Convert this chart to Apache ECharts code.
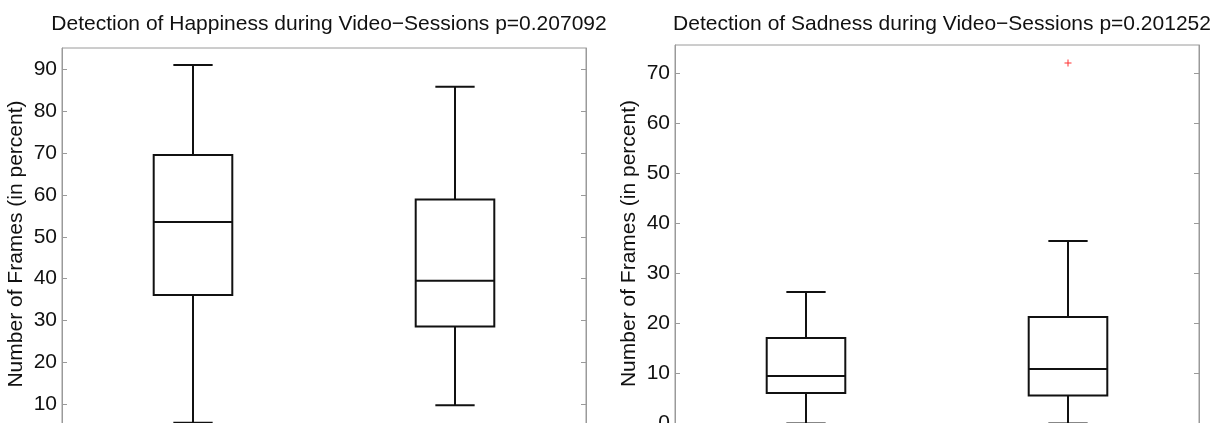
<!DOCTYPE html>
<html>
<head>
<meta charset="utf-8">
<script src="https://cdn.jsdelivr.net/npm/echarts@6/dist/echarts.min.js"></script>
<style>
  html, body { margin: 0; padding: 0; width: 1217px; height: 423px; overflow: hidden; background: #fff; }
  #chart { width: 1217px; height: 470px; }
</style>
</head>
<body>
<div id="chart"></div>
<script>
// Group positions on the x axis
const groups = [1, 2];

// Five-number summaries per group: [lower whisker, Q1, median, Q3, upper whisker]
const happinessBoxes = [
  [5.6, 36.1, 53.5, 69.5, 91.0],
  [9.8, 28.6, 39.5, 58.9, 85.8]
];
const sadnessBoxes = [
  [0.0, 6.1, 9.5, 17.1, 26.3],
  [0.0, 5.6, 10.9, 21.3, 36.5]
];
// Outliers as [group, value]
const happinessOutliers = [];
const sadnessOutliers = [[2, 72.1]];

// Tick labels
const happinessTicks = [10, 20, 30, 40, 50, 60, 70, 80, 90];
const sadnessTicks = [0, 10, 20, 30, 40, 50, 60, 70];

const titles = [
  'Detection of Happiness during Video\u2212Sessions p=0.207092',
  'Detection of Sadness during Video\u2212Sessions p=0.201252'
];
const yName = 'Number of Frames (in percent)';

const FONT = '"Liberation Sans", Arial, Helvetica, sans-serif';
const FRAME = '#9a9a9a';

function boxRows(boxes) {
  return boxes.map((b, i) => [groups[i]].concat(b));
}

// Draws a box with median, whiskers and half-width caps
function renderBox(params, api) {
  const x = api.value(0);
  const pLo = api.coord([x, api.value(1)]);
  const pQ1 = api.coord([x, api.value(2)]);
  const pMed = api.coord([x, api.value(3)]);
  const pQ3 = api.coord([x, api.value(4)]);
  const pHi = api.coord([x, api.value(5)]);
  const boxW = api.size([0.3, 0])[0];
  const capW = boxW / 2;
  const cx = pLo[0];
  const st = { stroke: '#111', lineWidth: 2, fill: null };
  const line = (x1, y1, x2, y2) => ({ type: 'line', shape: { x1, y1, x2, y2 }, style: st });
  return {
    type: 'group',
    children: [
      { type: 'rect', shape: { x: cx - boxW / 2, y: pQ3[1], width: boxW, height: pQ1[1] - pQ3[1] }, style: st },
      line(cx - boxW / 2, pMed[1], cx + boxW / 2, pMed[1]),
      line(cx, pQ3[1], cx, pHi[1]),
      line(cx, pQ1[1], cx, pLo[1]),
      line(cx - capW / 2, pHi[1], cx + capW / 2, pHi[1]),
      line(cx - capW / 2, pLo[1], cx + capW / 2, pLo[1])
    ]
  };
}

// Red plus markers for outliers
function renderPlus(params, api) {
  const p = api.coord([api.value(0), api.value(1)]);
  const h = 3.5;
  const st = { stroke: '#ff3030', lineWidth: 1 };
  return {
    type: 'group',
    children: [
      { type: 'line', shape: { x1: p[0] - h, y1: p[1], x2: p[0] + h, y2: p[1] }, style: st },
      { type: 'line', shape: { x1: p[0], y1: p[1] - h, x2: p[0], y2: p[1] + h }, style: st }
    ]
  };
}

function yAxes(gridIndex, min, max, ticks) {
  const base = {
    type: 'value', gridIndex, min, max,
    splitLine: { show: false },
    axisLine: { show: true, lineStyle: { color: FRAME } },
    axisTick: { show: true, inside: true, length: 5, customValues: ticks, lineStyle: { color: FRAME } }
  };
  return [
    Object.assign({}, base, {
      position: 'left',
      name: yName, nameLocation: 'middle', nameGap: 35,
      nameTextStyle: { fontFamily: FONT, fontSize: 21, color: '#111' },
      axisLabel: { customValues: ticks, fontFamily: FONT, fontSize: 21, color: '#111', margin: 5 }
    }),
    Object.assign({}, base, { position: 'right', axisLabel: { show: false } })
  ];
}

function xAxis(gridIndex) {
  return {
    type: 'value', gridIndex, min: 0.5, max: 2.5,
    axisLine: { show: false }, axisTick: { show: false },
    axisLabel: { show: false }, splitLine: { show: false }
  };
}

const grids = [
  { left: 62, top: 48, width: 524, height: 392 },
  { left: 675, top: 45, width: 524, height: 397 }
];

const titleStyle = { fontFamily: FONT, fontSize: 21, fontWeight: 'normal', color: '#111' };

const option = {
  animation: false,
  backgroundColor: '#fff',
  title: [
    { text: titles[0], left: grids[0].left + grids[0].width / 2, top: 9, textAlign: 'center', textStyle: titleStyle },
    { text: titles[1], left: grids[1].left + grids[1].width / 2, top: 9, textAlign: 'center', textStyle: titleStyle }
  ],
  grid: grids.map(g => Object.assign({ show: true, borderColor: FRAME, borderWidth: 1, backgroundColor: 'transparent' }, g)),
  xAxis: [xAxis(0), xAxis(1)],
  yAxis: yAxes(0, 1.5, 95.04, happinessTicks).concat(yAxes(1, -3.7, 75.7, sadnessTicks)),
  series: [
    { type: 'custom', xAxisIndex: 0, yAxisIndex: 0, renderItem: renderBox,
      encode: { x: 0, y: [1, 2, 3, 4, 5] }, data: boxRows(happinessBoxes), clip: false },
    { type: 'custom', xAxisIndex: 0, yAxisIndex: 0, renderItem: renderPlus,
      encode: { x: 0, y: 1 }, data: happinessOutliers },
    { type: 'custom', xAxisIndex: 1, yAxisIndex: 2, renderItem: renderBox,
      encode: { x: 0, y: [1, 2, 3, 4, 5] }, data: boxRows(sadnessBoxes), clip: false },
    { type: 'custom', xAxisIndex: 1, yAxisIndex: 2, renderItem: renderPlus,
      encode: { x: 0, y: 1 }, data: sadnessOutliers }
  ]
};

const chart = echarts.init(document.getElementById('chart'), null, { renderer: 'canvas' });
chart.setOption(option);
</script>
</body>
</html>
